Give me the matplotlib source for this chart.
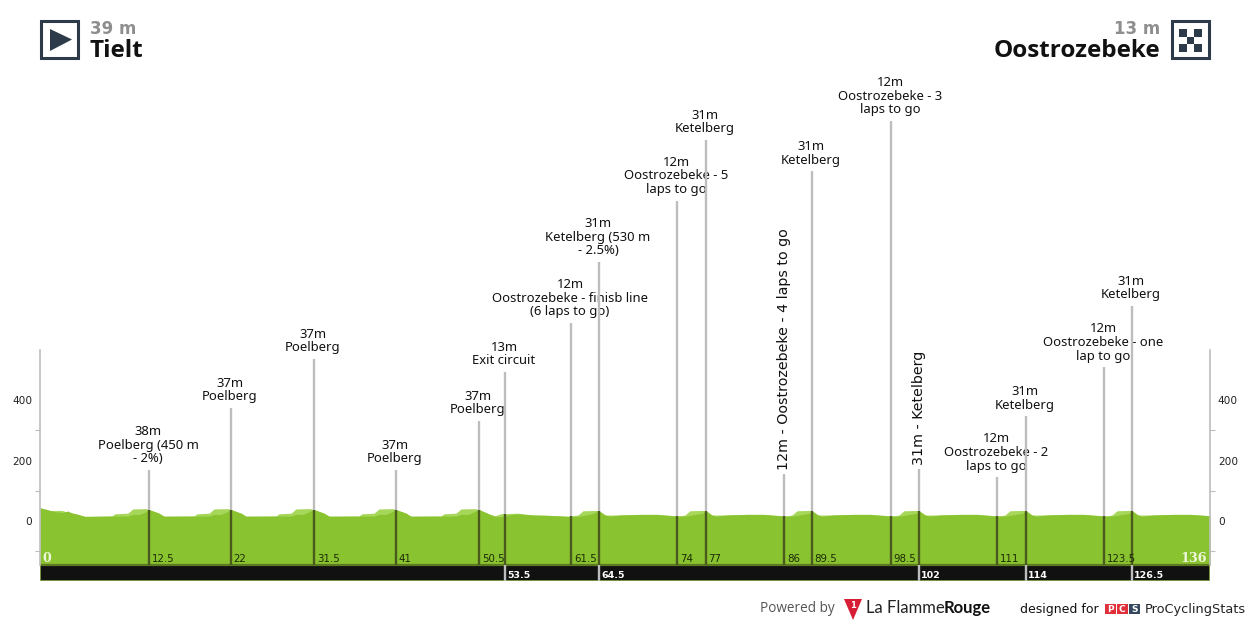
import matplotlib
matplotlib.use("Agg")
import matplotlib.pyplot as plt
from matplotlib.patches import Rectangle, Polygon

# ---- data ----
start_name, start_alt = "Tielt", "39 m"
finish_name, finish_alt = "Oostrozebeke", "13 m"
total_km = 136

upper_km = [0, 1.16, 2.56, 3.25, 4.42, 5.2, 8.34, 8.7, 10.2, 10.8, 12.4, 12.67,
            13.83, 14.41, 17.9, 18.25, 19.65, 20.23, 21.85, 22.2,
            23.36, 23.94, 27.43, 27.78, 29.18, 29.76, 31.38, 31.85,
            33.01, 33.59, 37.08, 37.43, 38.83, 39.41, 41.03, 41.38,
            42.54, 43.12, 46.61, 46.96, 48.36, 48.94, 50.56, 51.03,
            52.31, 52.89, 53.7, 54.05, 55.45, 57.31, 58.93, 61.6, 61.72, 62.54, 63.12, 64.74, 64.98,
            65.68, 67.42, 69.75, 71.72, 74.04, 74.62, 74.97, 75.55, 77.06, 77.4,
            78.1, 79.84, 82.17, 84.14, 86.48, 87.06, 87.41, 87.99, 89.5, 89.73,
            90.43, 92.17, 94.5, 96.47, 98.92, 99.5, 99.85, 100.43, 101.94, 102.18,
            102.88, 104.62, 106.95, 108.92, 111.24, 111.82, 112.17, 112.75, 114.26, 114.6,
            115.3, 117.04, 119.37, 121.34, 123.68, 124.26, 124.61, 125.19, 126.7, 126.93,
            127.63, 129.37, 131.7, 133.67, 136]
upper_m = [44, 35, 35, 29, 22, 15.4, 16.5, 24, 26, 40, 41, 38,
           26, 16, 16.5, 24, 26, 40, 41, 38,
           26, 16, 16.5, 24, 26, 40, 41, 38,
           26, 16, 16.5, 24, 26, 40, 41, 38,
           26, 16, 16.5, 24, 26, 40, 41, 38,
           22, 17.7, 25, 24.5, 26, 20, 19, 15.4, 17, 20, 34, 35, 34,
           20, 20, 22, 22, 17.5, 18, 20, 34, 35, 34,
           20, 20, 22, 22, 17.5, 18, 20, 34, 35, 34,
           20, 20, 22, 22, 17.5, 18, 20, 34, 35, 34,
           20, 20, 22, 22, 17.5, 18, 20, 34, 35, 34,
           20, 20, 22, 22, 17.5, 18, 20, 34, 35, 34,
           20, 20, 22, 22, 17.5]

lower_km = [0, 1.16, 1.6, 2.56, 3.25, 3.6, 4.42, 5.2, 8.34, 10.2, 10.8, 11.6, 12.4, 12.67,
            13.83, 14.41, 17.9, 19.65, 20.23, 21.07, 21.85, 22.2,
            23.36, 23.94, 27.43, 29.18, 29.76, 30.6, 31.38, 31.85,
            33.01, 33.59, 37.08, 38.83, 39.41, 40.25, 41.03, 41.38,
            42.54, 43.12, 46.61, 48.36, 48.94, 49.78, 50.56, 51.03,
            52.31, 52.89, 53.5, 54.05, 55.45, 57.31, 58.93, 61.6, 62.54, 63.12, 64.2, 64.98,
            65.68, 66.2, 67.42, 69.75, 71.72, 74.04, 75.2, 77.06, 77.4,
            78.1, 78.6, 79.84, 82.17, 84.14, 86.48, 87.64, 89.5, 89.73,
            90.43, 90.93, 92.17, 94.5, 96.47, 98.92, 100.08, 101.94, 102.18,
            102.88, 103.38, 104.62, 106.95, 108.92, 111.24, 112.4, 114.26, 114.6,
            115.3, 115.8, 117.04, 119.37, 121.34, 123.68, 124.84, 126.7, 126.93,
            127.63, 128.13, 129.37, 131.7, 133.67, 136]
lower_m = [44, 35, 32, 28, 33, 28, 22, 15.4, 16.5, 16.5, 22, 22, 32, 38,
           26, 16, 16.5, 16.5, 22, 22, 32, 38,
           26, 16, 16.5, 16.5, 22, 22, 32, 38,
           26, 16, 16.5, 16.5, 22, 22, 32, 38,
           26, 16, 16.5, 16.5, 22, 22, 32, 38,
           22, 15, 14, 18, 24, 20, 19, 15.4, 15.5, 18, 24, 34,
           20, 16, 20, 22, 22, 15.5, 17, 26, 34,
           20, 16, 20, 22, 22, 15.5, 17, 26, 34,
           20, 16, 20, 22, 22, 15.5, 17, 26, 34,
           20, 16, 20, 22, 22, 15.5, 17, 26, 34,
           20, 16, 20, 22, 22, 15.5, 17, 26, 34,
           20, 16, 20, 22, 22, 17.5]

point_km = [12.67, 22.2, 31.85, 41.38, 51.03, 54.05, 61.72, 64.98, 74.04, 77.4,
            86.48, 89.73, 98.92, 102.18, 111.24, 114.6, 123.68, 126.93]
point_elev = [38, 38, 38, 38, 38, 24.5, 17, 34, 17.5, 34, 17.5, 34, 17.5, 34, 17.5, 34, 17.5, 34]
point_top = [169, 374, 536, 169, 331, 493, 655, 856, 1058, 1259,
             155, 1156, 1322, 172, 145, 347, 509, 711]
km_labels = ["12.5", "22", "31.5", "41", "50.5", "53.5", "61.5", "64.5", "74", "77",
             "86", "89.5", "98.5", "102", "111", "114", "123.5", "126.5"]
point_text = ["38m\nPoelberg (450 m\n- 2%)", "37m\nPoelberg", "37m\nPoelberg", "37m\nPoelberg",
              "37m\nPoelberg", "13m\nExit circuit", "12m\nOostrozebeke - finisb line\n(6 laps to go)",
              "31m\nKetelberg (530 m\n- 2.5%)", "12m\nOostrozebeke - 5\nlaps to go", "31m\nKetelberg",
              "12m - Oostrozebeke - 4 laps to go", "31m\nKetelberg", "12m\nOostrozebeke - 3\nlaps to go",
              "31m - Ketelberg", "12m\nOostrozebeke - 2\nlaps to go", "31m\nKetelberg",
              "12m\nOostrozebeke - one\nlap to go", "31m\nKetelberg"]
rotated = [False] * 10 + [True] + [False] * 2 + [True] + [False] * 4
in_band = [False] * 5 + [True, False, True] + [False] * 5 + [True, False, True, False, True]
y_major = [0, 200, 400]
y_minor = [-100, 100, 300]

# ---- styles ----
W, H = 1250, 625
GREEN, LIGHT = "#8ac330", "#a6d75b"
DARK, GREY = "#4a5a1f", "#bdbdbd"
LABEL_FONT = "Noto Sans"

fig = plt.figure(figsize=(12.5, 6.25), dpi=100, facecolor="white")
# plot axes: 40..1210 px wide, 350..581 px tall
ax = fig.add_axes([40 / W, 1 - 581 / H, 1170 / W, 231 / H])
ax.set_xlim(0, total_km)
ax.set_ylim(-198, 565)
for s in ("top", "bottom"):
    ax.spines[s].set_visible(False)
for s in ("left", "right"):
    ax.spines[s].set_bounds(-145, 565)
    ax.spines[s].set_color(GREY)
    ax.spines[s].set_linewidth(1.2)
ax.set_xticks([])
ax.set_yticks(y_major)
ax.set_yticks(y_minor, minor=True)
ax.tick_params(axis="y", which="both", left=True, right=True, labelleft=True, labelright=True,
               length=3.6, color=GREY, width=0.8, labelsize=7.6, labelcolor="#222222")
ax.tick_params(axis="y", which="major", length=0, pad=5.7)
for lab in ax.get_yticklabels():
    lab.set_family("DejaVu Sans")

BASE = -145
ax.fill_between(upper_km, upper_m, BASE, color=LIGHT, lw=0, zorder=1)
ax.fill_between(lower_km, lower_m, BASE, color=GREEN, lw=0, zorder=1.1)
ax.add_patch(Rectangle((0, -198), total_km, 53, fc="#111111", ec="#8fae4a", lw=1.2, zorder=1.5))
ax.plot([0, total_km], [BASE, BASE], color="#5d7a20", lw=1.6, zorder=1.6)

for i, km in enumerate(point_km):
    z = 2 + i * 0.1
    low = BASE if not in_band[i] else -198
    ax.plot([km, km], [point_elev[i], point_top[i]], color=GREY, lw=1.7, zorder=z,
            solid_capstyle="butt", clip_on=False)
    ax.plot([km, km], [BASE, point_elev[i]], color=DARK, lw=1.7, zorder=z, solid_capstyle="butt")
    if in_band[i]:
        ax.plot([km, km], [low, BASE], color=GREY, lw=1.7, zorder=z, solid_capstyle="butt")
        ax.annotate(km_labels[i], (km, -180), xytext=(1.4, 0), textcoords="offset points", va="center",
                    ha="left", color="white", fontsize=6.8, fontweight="bold", family="DejaVu Sans", zorder=6)
    else:
        ax.annotate(km_labels[i], (km, -125), xytext=(2, 0), textcoords="offset points", va="center",
                    ha="left", color="#1c2a05", fontsize=7.4, family="DejaVu Sans", zorder=6)
    if rotated[i]:
        ax.annotate(point_text[i], (km, point_top[i]), xytext=(0, 3), textcoords="offset points",
                    rotation=90, ha="center", va="bottom", fontsize=10.3, family="DejaVu Sans",
                    color="#111111", annotation_clip=False, zorder=z + 0.05)
    else:
        ax.annotate(point_text[i], (km, point_top[i]), xytext=(-0.7, 3.2), textcoords="offset points",
                    ha="center", va="bottom", multialignment="center", fontsize=9.4, linespacing=1.08,
                    family=LABEL_FONT, color="#111111", annotation_clip=False, zorder=z + 0.05)

ax.annotate("0", (0, -125), xytext=(2, 0), textcoords="offset points", va="center", ha="left",
            color="#eef7dc", fontsize=9, fontweight="bold", family="DejaVu Serif", zorder=6)
ax.annotate(str(total_km), (total_km, -125), xytext=(-2, 0), textcoords="offset points", va="center",
            ha="right", color="#eef7dc", fontsize=9.2, fontweight="bold", family="DejaVu Serif", zorder=6)

# ---- decoration in pixel coordinates ----
dec = fig.add_axes([0, 0, 1, 1], facecolor="none")
dec.set_xlim(0, W)
dec.set_ylim(H, 0)
dec.axis("off")
NAVY = "#2d3a4a"
dec.add_patch(Rectangle((41, 21), 37, 37, fc="white", ec=NAVY, lw=2.2))
dec.add_patch(Polygon([[50, 29], [72, 39.5], [50, 51]], fc=NAVY, ec="none"))
dec.add_patch(Rectangle((1172, 21), 37, 37, fc="white", ec=NAVY, lw=2.2))
for r in range(3):
    for c in range(3):
        if (r + c) % 2 == 0:
            dec.add_patch(Rectangle((1179 + c * 7.5, 29 + r * 7.5), 7.5, 7.5, fc=NAVY, ec="none"))

dec.text(90, 29, start_alt, fontsize=12, fontweight="bold", color="#8e8e8e", va="center", family="DejaVu Sans")
dec.text(90, 51, start_name, fontsize=17.5, fontweight="bold", color="#111111", va="center", family="Open Sans")
dec.text(1160, 29, finish_alt, fontsize=12, fontweight="bold", color="#8e8e8e", va="center", ha="right", family="DejaVu Sans")
dec.text(1160, 51, finish_name, fontsize=17.5, fontweight="bold", color="#111111", va="center", ha="right", family="Open Sans")

dec.text(760, 608, "Powered by", fontsize=9.8, color="#555555", va="center", family="Open Sans")
dec.add_patch(Polygon([[844, 599], [862, 599], [853, 620]], fc="#d81e35", ec="none"))
dec.text(853, 606, "1", fontsize=6, color="white", ha="center", va="center", fontweight="bold", family="DejaVu Sans")
dec.text(866, 608, "La Flamme", fontsize=12, color="#222222", va="center", family="Lato")
dec.text(944, 608, "Rouge", fontsize=12, color="#111111", fontweight="bold", va="center", family="Lato")
dec.text(1020, 609, "designed for", fontsize=9, color="#111111", va="center", family="DejaVu Sans")
for x0, col, ch in ((1105, "#e0303a", "P"), (1117, "#e0303a", "C"), (1129, "#34475f", "S")):
    dec.add_patch(Rectangle((x0, 604), 10.5, 10, fc=col, ec="none"))
    dec.text(x0 + 5.2, 609, ch, fontsize=6.5, color="white", ha="center", va="center", fontweight="bold", family="DejaVu Sans")
dec.text(1145, 609, "ProCyclingStats", fontsize=9.3, color="#222222", va="center", family="DejaVu Sans")

fig.savefig("out.png", dpi=100)
